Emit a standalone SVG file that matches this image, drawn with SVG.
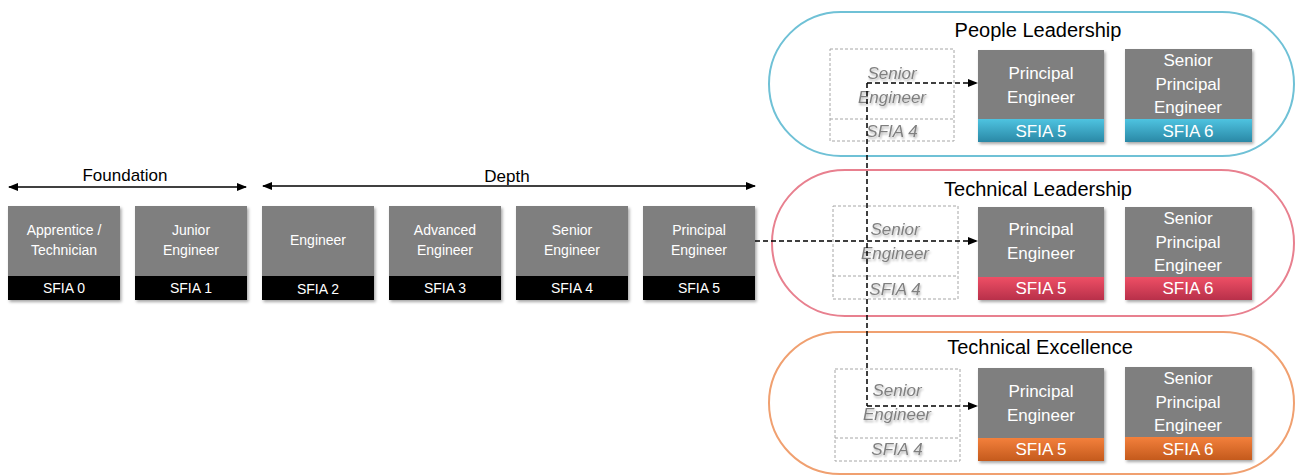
<svg xmlns="http://www.w3.org/2000/svg" width="1297" height="475" viewBox="0 0 1297 475">
<style>
.t{font-family:"Liberation Sans",Arial,sans-serif;fill:#fff;text-anchor:middle}
.s{font-size:14px}
.b{font-size:17px}
.h{font-family:"Liberation Sans",Arial,sans-serif;fill:#000;text-anchor:middle;font-size:20px}
.lbl{font-family:"Liberation Sans",Arial,sans-serif;fill:#000;text-anchor:middle;font-size:17px}
.g{font-family:"Liberation Sans",Arial,sans-serif;fill:#7f7f7f;text-anchor:middle;font-size:17px;font-style:italic;filter:url(#blur)}
.box{fill:#7f7f7f;filter:url(#sh)}
.blk{fill:#000}
.ghost{fill:none;stroke:#a6a6a6;stroke-width:1;stroke-dasharray:3,2}
.pill{fill:none;stroke-width:2}
.dash{fill:none;stroke:#000;stroke-width:1.5;stroke-dasharray:5,3}
.arr{fill:none;stroke:#000;stroke-width:1.5}
</style>
<defs>
<filter id="sh" x="-10%" y="-10%" width="125%" height="125%">
<feDropShadow dx="1.5" dy="2" stdDeviation="1.5" flood-color="#000" flood-opacity="0.35"/>
</filter>
<filter id="blur" x="-10%" y="-20%" width="120%" height="150%">
<feDropShadow dx="1" dy="2" stdDeviation="1.2" flood-color="#000" flood-opacity="0.3"/>
</filter>
<linearGradient id="gb" x1="0" y1="0" x2="0" y2="1"><stop offset="0" stop-color="#4ec3e0"/><stop offset="1" stop-color="#2a88a6"/></linearGradient>
<linearGradient id="gr" x1="0" y1="0" x2="0" y2="1"><stop offset="0" stop-color="#ee4f65"/><stop offset="1" stop-color="#b8304a"/></linearGradient>
<linearGradient id="go" x1="0" y1="0" x2="0" y2="1"><stop offset="0" stop-color="#f3803c"/><stop offset="1" stop-color="#c45a1c"/></linearGradient>
<marker id="ah" markerWidth="10" markerHeight="10" refX="9" refY="5" orient="auto-start-reverse" markerUnits="userSpaceOnUse">
<path d="M0,1 L10,5 L0,9 Z" fill="#000"/>
</marker>
</defs>

<g id="pills">
<rect id="pill-people" class="pill" x="769" y="12" width="525" height="144" rx="72" stroke="#6fc1d6"/>
<rect id="pill-techlead" class="pill" x="772" y="170" width="522" height="146" rx="73" stroke="#e8808f"/>
<rect id="pill-techex" class="pill" x="769" y="332" width="525" height="142" rx="71" stroke="#f0a070"/>
<text class="h" x="1038" y="37">People Leadership</text>
<text class="h" x="1038" y="196">Technical Leadership</text>
<text class="h" x="1040" y="354">Technical Excellence</text>
</g>

<g id="phase-labels">
<line class="arr" x1="9" y1="187" x2="246" y2="187" marker-start="url(#ah)" marker-end="url(#ah)"/>
<text class="lbl" x="125" y="181">Foundation</text>
<line class="arr" x1="263" y1="186" x2="755" y2="186" marker-start="url(#ah)" marker-end="url(#ah)"/>
<text class="lbl" x="507" y="182">Depth</text>
</g>

<g id="n-sfia0">
<rect class="box" x="8" y="206" width="112" height="94"/>
<rect class="blk" x="8" y="276" width="112" height="24"/>
<text class="t s" x="64" y="235">Apprentice /</text>
<text class="t s" x="64" y="255">Technician</text>
<text class="t s" x="64" y="293">SFIA 0</text>
</g>
<g id="n-sfia1">
<rect class="box" x="135" y="206" width="112" height="94"/>
<rect class="blk" x="135" y="276" width="112" height="24"/>
<text class="t s" x="191" y="235">Junior</text>
<text class="t s" x="191" y="255">Engineer</text>
<text class="t s" x="191" y="293">SFIA 1</text>
</g>
<g id="n-sfia2">
<rect class="box" x="262" y="206" width="112" height="94"/>
<rect class="blk" x="262" y="276" width="112" height="24"/>
<text class="t s" x="318" y="245">Engineer</text>
<text class="t s" x="318" y="294">SFIA 2</text>
</g>
<g id="n-sfia3">
<rect class="box" x="389" y="206" width="112" height="94"/>
<rect class="blk" x="389" y="276" width="112" height="24"/>
<text class="t s" x="445" y="235">Advanced</text>
<text class="t s" x="445" y="255">Engineer</text>
<text class="t s" x="445" y="293">SFIA 3</text>
</g>
<g id="n-sfia4">
<rect class="box" x="516" y="206" width="112" height="94"/>
<rect class="blk" x="516" y="276" width="112" height="24"/>
<text class="t s" x="572" y="235">Senior</text>
<text class="t s" x="572" y="255">Engineer</text>
<text class="t s" x="572" y="293">SFIA 4</text>
</g>
<g id="n-sfia5">
<rect class="box" x="643" y="206" width="112" height="94"/>
<rect class="blk" x="643" y="276" width="112" height="24"/>
<text class="t s" x="699" y="235">Principal</text>
<text class="t s" x="699" y="255">Engineer</text>
<text class="t s" x="699" y="293">SFIA 5</text>
</g>

<g id="ghost-people">
<rect class="ghost" x="830" y="49" width="124" height="92"/>
<line class="ghost" x1="830" y1="119" x2="954" y2="119"/>
<text class="g" x="892" y="79">Senior</text>
<text class="g" x="892" y="103">Engineer</text>
<text class="g" x="892" y="137">SFIA 4</text>
</g>
<g id="ghost-techlead">
<rect class="ghost" x="833" y="206" width="125" height="93"/>
<line class="ghost" x1="833" y1="276" x2="958" y2="276"/>
<text class="g" x="895" y="235">Senior</text>
<text class="g" x="895" y="259">Engineer</text>
<text class="g" x="895" y="295">SFIA 4</text>
</g>
<g id="ghost-techex">
<rect class="ghost" x="835" y="369" width="125" height="92"/>
<line class="ghost" x1="835" y1="438" x2="960" y2="438"/>
<text class="g" x="897" y="396">Senior</text>
<text class="g" x="897" y="420">Engineer</text>
<text class="g" x="897" y="455">SFIA 4</text>
</g>

<g id="n-pl-sfia5">
<rect class="box" x="978" y="50" width="126" height="92"/>
<rect x="978" y="119" width="126" height="23" fill="url(#gb)"/>
<text class="t b" x="1041" y="79">Principal</text>
<text class="t b" x="1041" y="103">Engineer</text>
<text class="t b" x="1041" y="137">SFIA 5</text>
</g>
<g id="n-pl-sfia6">
<rect class="box" x="1125" y="49" width="127" height="93"/>
<rect x="1125" y="119" width="127" height="23" fill="url(#gb)"/>
<text class="t b" x="1188" y="66">Senior</text>
<text class="t b" x="1188" y="90">Principal</text>
<text class="t b" x="1188" y="113">Engineer</text>
<text class="t b" x="1188" y="137">SFIA 6</text>
</g>
<g id="n-tl-sfia5">
<rect class="box" x="978" y="207" width="126" height="93"/>
<rect x="978" y="277" width="126" height="23" fill="url(#gr)"/>
<text class="t b" x="1041" y="235">Principal</text>
<text class="t b" x="1041" y="259">Engineer</text>
<text class="t b" x="1041" y="294">SFIA 5</text>
</g>
<g id="n-tl-sfia6">
<rect class="box" x="1125" y="207" width="127" height="93"/>
<rect x="1125" y="277" width="127" height="23" fill="url(#gr)"/>
<text class="t b" x="1188" y="224">Senior</text>
<text class="t b" x="1188" y="248">Principal</text>
<text class="t b" x="1188" y="271">Engineer</text>
<text class="t b" x="1188" y="294">SFIA 6</text>
</g>
<g id="n-te-sfia5">
<rect class="box" x="978" y="368" width="126" height="93"/>
<rect x="978" y="438" width="126" height="23" fill="url(#go)"/>
<text class="t b" x="1041" y="397">Principal</text>
<text class="t b" x="1041" y="421">Engineer</text>
<text class="t b" x="1041" y="455">SFIA 5</text>
</g>
<g id="n-te-sfia6">
<rect class="box" x="1125" y="367" width="127" height="93"/>
<rect x="1125" y="437" width="127" height="23" fill="url(#go)"/>
<text class="t b" x="1188" y="384">Senior</text>
<text class="t b" x="1188" y="408">Principal</text>
<text class="t b" x="1188" y="431">Engineer</text>
<text class="t b" x="1188" y="455">SFIA 6</text>
</g>

<g id="connectors">
<line class="dash" x1="755" y1="241" x2="977" y2="241" marker-end="url(#ah)"/>
<line class="dash" x1="867" y1="83" x2="867" y2="406"/>
<line class="dash" x1="867" y1="83" x2="977" y2="83" marker-end="url(#ah)"/>
<line class="dash" x1="867" y1="406" x2="977" y2="406" marker-end="url(#ah)"/>
</g>
</svg>
